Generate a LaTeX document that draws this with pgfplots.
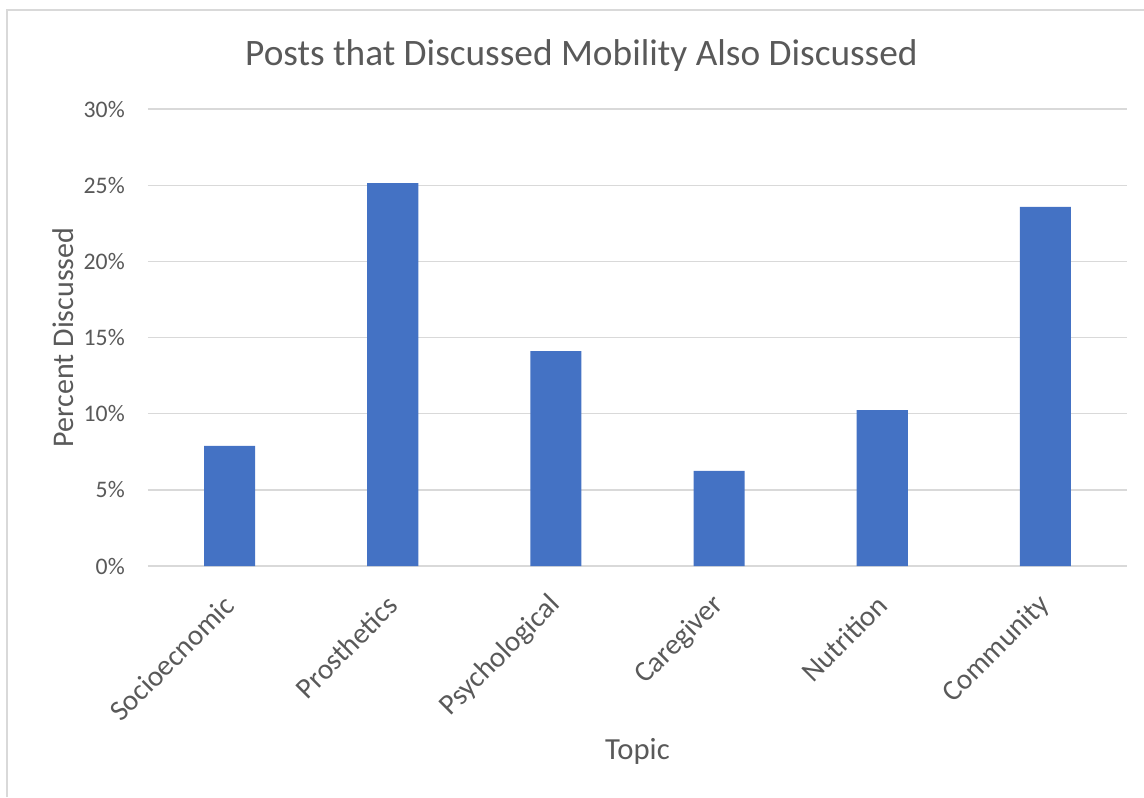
\documentclass[border=0pt]{standalone}
\usepackage{fontspec}
\setmainfont{Carlito}
\usepackage{pgfplots}
\pgfplotsset{compat=1.18}
\definecolor{barblue}{HTML}{4472C4}
\definecolor{txtgray}{HTML}{595959}
\definecolor{gridgray}{HTML}{D9D9D9}
\begin{document}
\begin{tikzpicture}
\path[use as bounding box] (-111pt,-173.25pt) rectangle (747pt,424.5pt);
\draw[gridgray, line width=1.2pt] (-105.75pt,-173.25pt) -- (-105.75pt,417pt) -- (747pt,417pt);
\begin{axis}[
  at={(0pt,0pt)}, anchor=south west,
  scale only axis, width=734.25pt, height=342.75pt,
  xmin=-0.5, xmax=5.5, ymin=0, ymax=30,
  axis line style={draw=none},
  major tick length=0pt,
  ymajorgrids, grid style={gridgray, line width=1pt},
  ytick={0,5,10,15,20,25,30},
  yticklabels={0\%,5\%,10\%,15\%,20\%,25\%,30\%},
  xtick={0,1,2,3,4,5},
  xticklabels={Socioecnomic,Prosthetics,Psychological,Caregiver,Nutrition,Community},
  tick label style={text=txtgray},
  yticklabel style={font=\fontsize{17.8}{21}\selectfont, inner sep=0pt, anchor=east, xshift=-17.25pt},
  xticklabel style={font=\fontsize{21.8}{26}\selectfont, inner sep=0pt, rotate=45, anchor=east},
  xticklabel shift=26pt,
  title={Posts that Discussed Mobility Also Discussed},
  title style={font=\fontsize{28}{33}\selectfont, text=txtgray, at={(axis description cs:0.4428,1.094)}, anchor=base, yshift=-5.25pt},
  xlabel={Topic},
  xlabel style={font=\fontsize{23}{27}\selectfont, text=txtgray, at={(axis description cs:0.5,-0.4223)}, anchor=base, yshift=0pt},
  ylabel={Percent Discussed},
  ylabel style={font=\fontsize{22.5}{27}\selectfont, text=txtgray, at={(axis description cs:-0.0766,0.5)}, anchor=base, xshift=0pt, yshift=0pt},
  ybar, bar width=0.313,
  clip=false,
]
\addplot[fill=barblue, draw=none] coordinates {(0,7.88) (1,25.14) (2,14.11) (3,6.24) (4,10.24) (5,23.57)};
\end{axis}
\end{tikzpicture}
\end{document}
